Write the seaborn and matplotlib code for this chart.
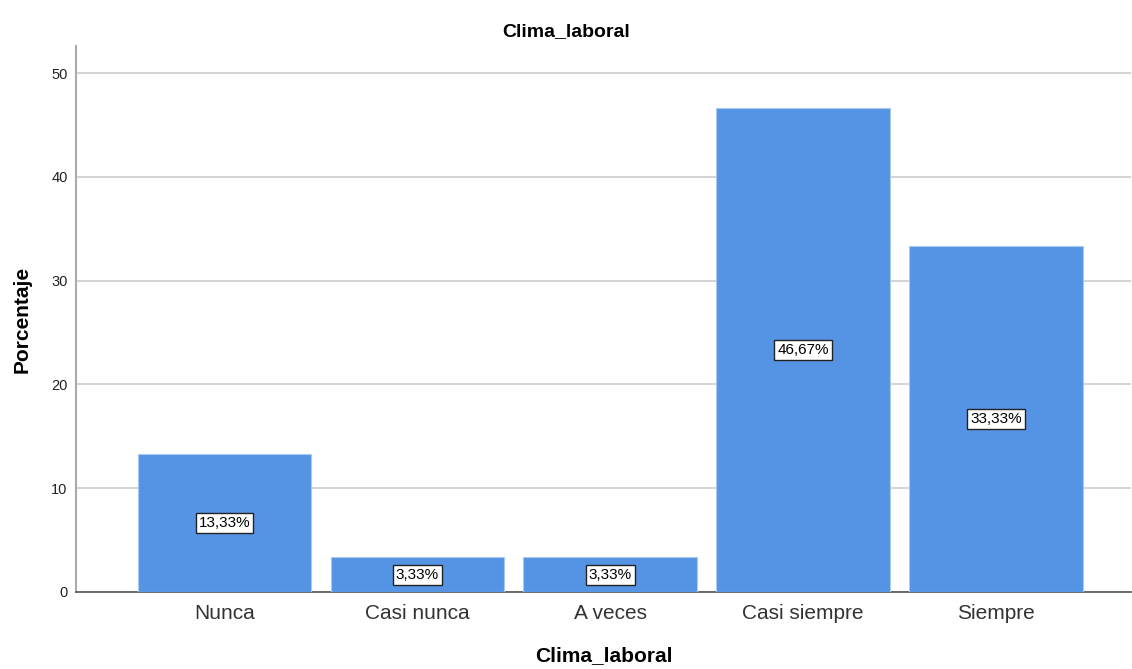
import matplotlib
matplotlib.use("Agg")
import matplotlib.pyplot as plt
import seaborn as sns
import pandas as pd

categorias = ["Nunca", "Casi nunca", "A veces", "Casi siempre", "Siempre"]
porcentajes = [13.33, 3.33, 3.33, 46.67, 33.33]
yticks = [0, 10, 20, 30, 40, 50]

sns.set_theme(style="white")
plt.rcParams["font.family"] = ["Liberation Sans", "DejaVu Sans"]

df = pd.DataFrame({"cat": categorias, "pct": porcentajes})

fig = plt.figure(figsize=(11.32, 6.69), dpi=100)
ax = fig.add_axes([0.0671, 0.1151, 0.9319, 0.8161])

sns.barplot(data=df, x="cat", y="pct", color="#5594e4", saturation=1,
            width=0.9, edgecolor="#a9c9f0", linewidth=0.8, ax=ax, zorder=3)

for i, v in enumerate(porcentajes):
    ax.text(i, v / 2, f"{v:.2f}%".replace(".", ","), ha="center", va="center",
            fontsize=11, color="black", zorder=5,
            bbox=dict(boxstyle="square,pad=0.2", facecolor="white",
                      edgecolor="#222222", linewidth=1.0))

ax.set_xlim(-0.77, 4.70)
ax.set_ylim(0, 52.6)
ax.set_yticks(yticks)
ax.yaxis.grid(True, color="#cccccc", linewidth=1.2, zorder=0)
ax.set_axisbelow(True)

ax.tick_params(axis="y", labelsize=10.5, length=0, pad=6, labelcolor="#222222")
ax.tick_params(axis="x", labelsize=15, length=0, pad=9, labelcolor="#333333")

for s in ["top", "right"]:
    ax.spines[s].set_visible(False)
ax.spines["left"].set_color("#aaaaaa")
ax.spines["left"].set_linewidth(1.5)
ax.spines["bottom"].set_color("#555555")
ax.spines["bottom"].set_linewidth(1.2)

ax.set_xlabel("Clima_laboral", fontsize=15, fontweight="bold", labelpad=16,
              color="black")
ax.set_ylabel("Porcentaje", fontsize=15, fontweight="bold", labelpad=14,
              color="black")
fig.text(0.5, 0.953, "Clima_laboral", ha="center", va="center",
         fontsize=14, fontweight="bold", color="black")

fig.savefig("out.png", dpi=100)
